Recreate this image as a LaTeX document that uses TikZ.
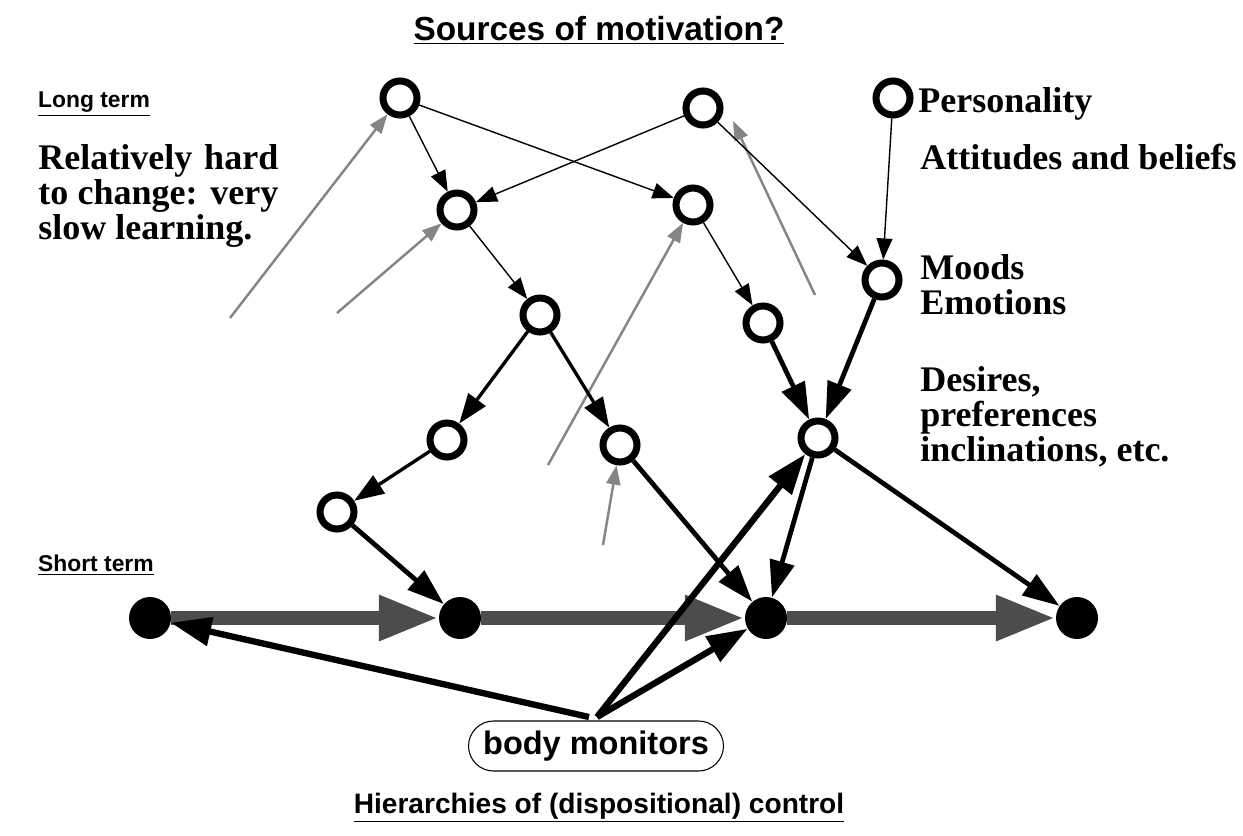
\documentclass[tikz,border=0pt]{standalone}
\usepackage{fontspec}
\setmainfont{Liberation Serif}
\setsansfont{Liberation Sans}
\usepackage{tikz}
\usetikzlibrary{arrows.meta}
\usetikzlibrary{shapes.geometric}
\usetikzlibrary{calc}

\tikzset{
  opn/.style={circle, draw, line width=4pt, minimum size=0.68cm, inner sep=0pt, fill=white},
  sol/.style={circle, fill=black, minimum size=0.84cm, inner sep=0pt},
  thin arr/.style={line width=0.8pt, -{Triangle[length=12pt,width=9pt]}},
  mid arr/.style={line width=1.9pt, -{Triangle[length=17pt,width=12pt]}},
  thick arr/.style={line width=2.7pt, -{Triangle[length=21pt,width=14pt]}},
  body arr/.style={line width=3.6pt, -{Triangle[length=23pt,width=16pt]}},
  gray arr/.style={draw=black!48, line width=1.4pt, -{Triangle[length=11pt,width=8pt,fill=black!48]}},
  flow arr/.style={draw=black!70, line width=8pt, -{Triangle[length=34pt,width=24pt]}},
  hdr/.style={font=\sffamily\bfseries\fontsize{13}{15}\selectfont, anchor=west},
  lbl/.style={font=\bfseries\fontsize{20.5}{20}\selectfont, anchor=north west, align=left, inner sep=0pt}
}

\begin{document}
\begin{tikzpicture}[x=0.02cm, y=-0.02cm]
  \useasboundingbox (0,0) rectangle (1243,835);

  % Titel und Beschriftungen
  \node[font=\sffamily\bfseries\fontsize{19}{22}\selectfont] (ttl) at (599,30) {\underline{Sources of motivation?}};
  \node[hdr] (lng) at (32,104) {\underline{Long term}};
  \node[hdr] (srt) at (32,565) {\underline{Short term}};
  \node[font=\sffamily\bfseries\fontsize{16}{18}\selectfont] (hier) at (599,808) {\underline{Hierarchies of (dispositional) control}};
  \node[lbl, text width=4.8cm, align=justify] (slow) at (38,144) {Relatively hard\linebreak to change: very\linebreak slow learning.};

  % Langfristige Zustaende
  \node[opn] (n1a) at (400,98) {};
  \node[opn] (n1b) at (703,108) {};
  \node[opn] (pers) at (893,98) {};
  \node[opn] (n2a) at (457,210) {};
  \node[opn] (n2b) at (693,205) {};
  \node[opn] (mood) at (882,280) {};
  \node[opn] (n3a) at (540,315) {};
  \node[opn] (n3b) at (763,323) {};
  \node[opn] (n4a) at (447,440) {};
  \node[opn] (n4b) at (620,445) {};
  \node[opn] (desr) at (818,438) {};
  \node[opn] (n5) at (337,512) {};

  \node[lbl, anchor=west] (tpers) at (918,104) {Personality};
  \node[lbl] (tatt) at (920,144) {Attitudes and beliefs};
  \node[lbl] (tmood) at (920,254) {Moods\\Emotions};
  \node[lbl] (tdesr) at (920,366) {Desires,\\preferences\\inclinations, etc.};

  % Kurzfristige Zustaende
  \foreach \i/\x in {1/150,2/460,3/766,4/1077}
    \node[sol] (s\i) at (\x,618) {};

  % Koerpermonitore
  \node[draw, line width=0.6pt, rounded corners=0.5cm, minimum width=5.1cm, minimum height=1.0cm,
        font=\sffamily\bfseries\fontsize{18.5}{20}\selectfont] (bm) at (596,746) {body monitors};
  \coordinate (bmL) at (589,717);
  \coordinate (bmR) at (597,717);

  % Lernen (graue Pfeile)
  \coordinate (g1) at (230,318);
  \coordinate (g2) at (337,313);
  \coordinate (g3) at (548,465);
  \coordinate (g4) at (815,295);
  \coordinate (g4e) at (733,121);
  \coordinate (g5) at (603,545);
  \draw[gray arr] (g1) -- (n1a);
  \draw[gray arr] (g2) -- (n2a);
  \draw[gray arr] (g3) -- (n2b);
  \draw[gray arr] (g4) -- (g4e);
  \draw[gray arr] (g5) -- (n4b);

  % Verbindungen
  \draw[thin arr] (n1a) -- (n2a);
  \draw[thin arr] (n1a) -- (n2b);
  \draw[thin arr] (n1b) -- (n2a);
  \draw[thin arr] (n1b) -- (mood);
  \draw[thin arr] (pers) -- (mood);
  \draw[thin arr] (n2a) -- (n3a);
  \draw[thin arr] (n2b) -- (n3b);
  \draw[mid arr] (n3a) -- (n4a);
  \draw[mid arr] (n3a) -- (n4b);
  \draw[mid arr] (n4a) -- (n5);
  \draw[thick arr] (n3b) -- (desr);
  \draw[thick arr] (mood) -- (desr);
  \draw[thick arr] (n5) -- (s2);
  \draw[thick arr] (n4b) -- (s3);
  \draw[thick arr] (desr) -- (s3);
  \draw[thick arr] (desr) -- (s4);

  % Ablauf
  \draw[flow arr] (s1) -- (s2);
  \draw[flow arr] (s2) -- (s3);
  \draw[flow arr] (s3) -- (s4);

  \draw[body arr] (bmL) -- (s1);
  \draw[body arr] (bmR) -- (s3);
  \draw[body arr] (bmR) -- (desr);
\end{tikzpicture}
\end{document}
